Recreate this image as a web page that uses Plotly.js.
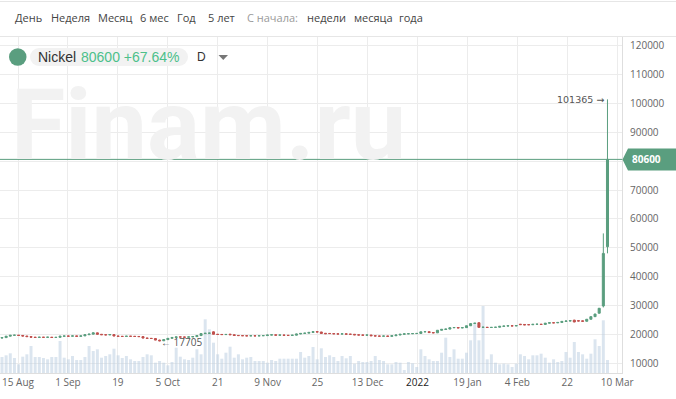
<!DOCTYPE html>
<html><head><meta charset="utf-8">
<script src="https://cdn.plot.ly/plotly-3.0.1.min.js"></script>
<style>html,body{margin:0;padding:0;background:#fff}#c{width:676px;height:399px}</style>
</head><body><div id="c"></div>
<script>
const instrument = 'Nickel';
const lastText = '80600 +67.64%';
const menuItems = ['День','Неделя','Месяц','6 мес','Год','5 лет','С начала:','недели','месяца','года'];
const tickLabels = ['15 Aug','1 Sep','19','5 Oct','21','9 Nov','25','13 Dec','2022','19 Jan','4 Feb','22','10 Mar'];
const priceTicks = [10000,20000,30000,40000,50000,60000,70000,80000,90000,100000,110000,120000];

const open = [18800,18950,19450,19750,19800,19700,19500,19300,19100,19000,
19100,19050,19100,19000,19050,19450,19500,19450,19550,19400,
19550,19950,20150,20600,20100,19950,19900,20000,19500,19400,
19350,19450,19400,19350,19300,18800,18700,18650,18100,17850,
18250,18700,19000,19200,19150,19100,19200,19300,19650,20350,
20450,20950,20100,20050,20000,20150,19950,19700,19650,19600,
19550,19600,19550,19600,19650,19850,19900,19800,19850,19750,
19700,19800,20200,20400,20500,20750,21000,20900,20450,20400,
20350,20250,20200,20250,20150,20100,19900,19850,19800,19850,
19600,19500,19450,19500,19400,19600,19850,20100,20250,20300,
20350,20400,20950,21000,20700,20600,21500,21800,21900,22350,
22450,22300,22400,23050,23800,24100,22500,22550,22450,22500,
22550,22850,22950,23050,23000,23600,23500,23450,23400,23550,
23600,23500,23950,24100,24050,24200,24550,24700,25000,24800,
24750,24600,25300,26200,27400,29900,50400];
const high = [19000,19500,19800,19900,19850,19750,19550,19350,19200,19200,
19150,19200,19150,19150,19500,19600,19550,19650,19600,19600,
20000,20250,20700,20650,20150,20000,20100,20050,19550,19450,
19500,19500,19450,19400,19350,18850,18750,18700,18200,18300,
18750,19050,19250,19250,19200,19250,19350,19700,20400,20550,
20600,21100,20150,20100,20150,20200,20000,19750,19700,19650,
19650,19650,19650,19700,19900,19950,19950,19900,19900,19800,
19850,20250,20450,20550,20800,21100,21050,20950,20500,20450,
20400,20300,20300,20300,20200,20150,19950,19900,19900,19900,
19650,19550,19550,19550,19650,19900,20150,20300,20350,20400,
20450,21000,21100,21050,20750,21550,21850,21950,22400,22500,
22500,22450,23100,23850,24000,24200,22650,22600,22550,22600,
22900,23000,23100,23100,23150,23650,23550,23500,23600,23650,
23650,24000,24150,24150,24250,24600,24750,24850,25100,24850,
24800,25350,26250,27200,29200,55000,101365];
const low = [18700,18900,19400,19650,19600,19400,19250,19050,18900,18950,
18950,19000,18900,18950,19000,19400,19350,19400,19350,19350,
19500,19900,20100,20050,19900,19800,19850,19450,19350,19300,
19300,19350,19300,19250,18750,18650,18600,18050,17705,17800,
18200,18650,18950,19100,19050,19050,19150,19250,19600,20300,
20400,20050,19950,19950,19950,19900,19650,19600,19550,19500,
19500,19500,19500,19550,19600,19800,19750,19750,19700,19650,
19650,19750,20150,20350,20450,20700,20850,20350,20250,20300,
20200,20150,20150,20100,20050,19850,19800,19750,19750,19550,
19450,19400,19400,19350,19350,19550,19800,20050,20200,20250,
20300,20350,20900,20650,20550,20550,21450,21750,21850,22300,
22250,22250,22350,23000,23750,22450,22450,22400,22400,22450,
22500,22800,22900,22950,22950,23400,23300,23350,23350,23500,
23450,23450,23900,24000,24000,24150,24500,24650,24300,24650,
24550,24550,25250,26150,27300,29400,48100];
const close = [18950,19450,19750,19800,19700,19500,19300,19100,19000,19100,
19050,19100,19000,19050,19450,19500,19450,19550,19400,19550,
19950,20150,20600,20100,19950,19900,20000,19500,19400,19350,
19450,19400,19350,19300,18800,18700,18650,18100,17850,18250,
18700,19000,19200,19150,19100,19200,19300,19650,20350,20450,
20500,20100,20050,20000,20050,19950,19700,19650,19600,19550,
19600,19550,19600,19650,19850,19900,19800,19850,19750,19700,
19800,20200,20400,20500,20750,21000,20900,20400,20300,20350,
20250,20200,20250,20150,20100,19900,19850,19800,19850,19600,
19500,19450,19500,19400,19600,19850,20100,20250,20300,20350,
20400,20950,21000,20700,20600,21500,21800,21900,22350,22450,
22300,22400,23050,23800,23950,22500,22550,22450,22500,22550,
22850,22950,23050,23000,23100,23450,23350,23400,23550,23600,
23500,23950,24100,24050,24200,24550,24700,24800,24350,24700,
24600,25300,26200,27100,29100,48079,80600];
const volume = [1600,1770,1970,1500,870,1630,1870,2700,1600,1600,
1500,1370,1600,1600,3200,1530,1370,1700,1300,1300,
1600,2700,2200,2370,1530,1700,1870,2430,1770,1500,
1700,1370,1200,1200,1600,1870,1770,1030,1200,
1030,770,1100,2530,1630,1370,1300,1530,2370,1870,
5370,4370,3030,1870,1430,2030,2630,1530,1870,1370,
1530,1600,1200,1200,1200,1030,1300,1200,1430,1430,
1430,1430,1430,2100,1530,1700,2600,
1370,2470,1600,1770,1600,1200,1700,1470,1700,930,
1200,1100,1100,1200,1700,1300,1200,870,870,1100,
1030,300,1100,970,600,2370,1700,1370,1200,1200,
2030,3530,1600,2370,1430,1430,2030,
3270,4870,3270,6700,1370,1870,1030,870,930,870,
600,930,1870,1700,1370,1770,1770,1930,1530,1030,
1370,1100,1200,2100,1530,3100,2100,1870,1430,1930,
3370,2700,5270,1300];

const G = '#5a9e7f', R = '#c0504d';
const idx = close.map((_, i) => i);
const last = close[close.length - 1];
const iMax = high.indexOf(Math.max(...high));
const iMin = low.indexOf(Math.min(...low));
const tickVals = tickLabels.map((_, k) => 3.86 + 12.04 * k);
const tickText = tickLabels.map(t => t === '2022' ? "<span style='color:#222'>2022</span>" : t);
// the tick hidden behind the last-price marker keeps its gridline but no label
const priceText = priceTicks.map(v => Math.abs(v - last) < 5000 ? '' : String(v));

const PW = 622, PT = 37, PB = 373, PH = PB - PT;
const px = v => v / PW;
const py = v => (PB - v) / PH;

const traces = [
  {type:'bar', x:idx, y:volume, yaxis:'y', xaxis:'x', width:0.72,
   marker:{color:'rgba(190,208,226,0.55)', line:{width:0}}, hoverinfo:'skip'},
  {type:'candlestick', x:idx, open:open, high:high, low:low, close:close, xaxis:'x', yaxis:'y2',
   whiskerwidth:0,
   increasing:{line:{color:G, width:1}, fillcolor:G},
   decreasing:{line:{color:R, width:1}, fillcolor:R}, hoverinfo:'skip'}
];

const menuX = [15,51,98,140,177,208,247,307,354,399];
const annotations = [];
annotations.push({xref:'paper', yref:'paper', x:px(9), y:py(125), xanchor:'left', yanchor:'middle',
  text:'Finam.ru', showarrow:false, font:{family:'Roboto', size:99, weight:700, color:'#f2f2f2'}});
menuItems.forEach((m, k) => annotations.push({xref:'paper', yref:'paper', x:px(menuX[k]-2), y:py(18),
  xanchor:'left', yanchor:'middle', text:m, showarrow:false,
  font:{family:'Open Sans', size:11, color: m === 'С начала:' ? '#9a9a9a' : '#444'}}));
annotations.push({xref:'paper', yref:'paper', x:px(36), y:py(57), xanchor:'left', yanchor:'middle',
  text:instrument, showarrow:false, font:{family:'Liberation Sans', size:14, color:'#333'}});
annotations.push({xref:'paper', yref:'paper', x:px(79), y:py(57), xanchor:'left', yanchor:'middle',
  text:lastText, showarrow:false, font:{family:'Liberation Sans', size:14, color:'#4cc08a'}});
annotations.push({xref:'paper', yref:'paper', x:px(195), y:py(57), xanchor:'left', yanchor:'middle',
  text:'D', showarrow:false, font:{family:'Liberation Sans', size:12, color:'#333'}});
annotations.push({xref:'x', yref:'y2', x:iMax, y:high[iMax], xanchor:'right', yanchor:'middle', xshift:-1,
  text:high[iMax] + ' →', showarrow:false, font:{family:'DejaVu Sans', size:9.5, color:'#555'}});
annotations.push({xref:'x', yref:'y2', x:iMin, y:low[iMin], xanchor:'left', yanchor:'middle', xshift:-1, yshift:-1,
  text:'← ' + low[iMin], showarrow:false, font:{family:'Open Sans', size:10, color:'#555'}});
annotations.push({xref:'paper', yref:'y2', x:1, y:last, xanchor:'left', yanchor:'middle', xshift:8,
  text:'<b>' + last + '</b>', showarrow:false, font:{family:'Open Sans', size:10, color:'#fff'}});

const shapes = [
  {type:'line', xref:'paper', yref:'paper', x0:0, x1:676/PW, y0:py(1.5), y1:py(1.5), line:{color:'#e6e6e6', width:1}},
  {type:'line', xref:'paper', yref:'paper', x0:0, x1:676/PW, y0:py(36.5), y1:py(36.5), line:{color:'#e6e6e6', width:1}},
  {type:'line', xref:'paper', yref:'y2', x0:0, x1:1, y0:last, y1:last, line:{color:G, width:1}},
  {type:'path', xref:'paper', yref:'y2', xsizemode:'pixel', ysizemode:'pixel', xanchor:1, yanchor:last,
   path:'M0.5,0 L6,11 L54,11 L54,-11 L6,-11 Z', fillcolor:G, line:{width:0}},
  {type:'rect', xref:'paper', yref:'paper', xsizemode:'pixel', ysizemode:'pixel', xanchor:0, yanchor:py(57),
   x0:39, x1:179, y0:-9, y1:9, fillcolor:'#f2f2f2', line:{width:0}},
  {type:'circle', xref:'paper', yref:'paper', xsizemode:'pixel', ysizemode:'pixel', xanchor:0, yanchor:py(57),
   x0:30, x1:48, y0:-9, y1:9, fillcolor:'#f2f2f2', line:{width:0}},
  {type:'circle', xref:'paper', yref:'paper', xsizemode:'pixel', ysizemode:'pixel', xanchor:0, yanchor:py(57),
   x0:170, x1:188, y0:-9, y1:9, fillcolor:'#f2f2f2', line:{width:0}},
  {type:'circle', xref:'paper', yref:'paper', xsizemode:'pixel', ysizemode:'pixel', xanchor:0, yanchor:py(57),
   x0:9, x1:26.5, y0:-8.75, y1:8.75, fillcolor:G, line:{width:0}},
  {type:'path', xref:'paper', yref:'paper', xsizemode:'pixel', ysizemode:'pixel', xanchor:0, yanchor:py(57),
   path:'M218.5,2 L228,2 L223.25,-3 Z', fillcolor:'#777', line:{width:0}}
];

const layout = {
  width:676, height:399,
  margin:{l:0, r:54, t:37, b:26, pad:0},
  paper_bgcolor:'#fff', plot_bgcolor:'#fff',
  showlegend:false, hovermode:false,
  font:{family:'Open Sans', size:10, color:'#666'},
  xaxis:{range:[-0.48, 149.5], tickmode:'array', tickvals:tickVals, ticktext:tickText,
    showgrid:true, gridcolor:'#ececec', gridwidth:1, showline:true, linecolor:'#dedede',
    ticks:'', zeroline:false, rangeslider:{visible:false}, fixedrange:true,
    tickfont:{family:'Open Sans', size:10, color:'#666'}},
  yaxis:{range:[0, 33600], visible:false, showgrid:false, fixedrange:true},
  yaxis2:{overlaying:'y', side:'right', range:[6711, 122937], tickmode:'array',
    tickvals:priceTicks, ticktext:priceText,
    showgrid:true, gridcolor:'#ececec', gridwidth:1, showline:true, linecolor:'#dedede',
    ticks:'', ticklabelstandoff:5, zeroline:false, fixedrange:true,
    tickfont:{family:'Open Sans', size:10, color:'#666'}},
  annotations:annotations,
  shapes:shapes
};

Plotly.newPlot('c', traces, layout, {staticPlot:true, displayModeBar:false});
</script>
</body></html>
